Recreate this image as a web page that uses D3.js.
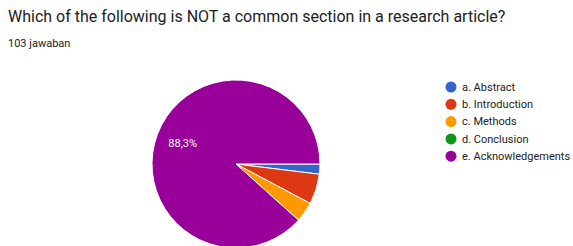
<!DOCTYPE html>
<html>
<head>
<meta charset="utf-8">
<script src="https://cdn.jsdelivr.net/npm/d3@7"></script>
<style>
  body { margin: 0; background: #fff; }
  svg { display: block; font-family: Roboto, Arial, sans-serif; }
</style>
</head>
<body>
<div id="chart"></div>
<script>
const TITLE = 'Which of the following is NOT a common section in a research article?';
const SUBTITLE = '103 jawaban';
const categories = ['a. Abstract', 'b. Introduction', 'c. Methods', 'd. Conclusion', 'e. Acknowledgements'];
const counts = [2, 6, 4, 0, 91];
const colors = ['#3366cc', '#dc3912', '#ff9900', '#109618', '#990099'];

const W = 573;
const H = 246;
const cx = 236;
const cy = 164;
const R = 84;

const svg = d3.select('#chart')
  .append('svg')
  .attr('width', W)
  .attr('height', H);

svg.append('text')
  .attr('x', 8)
  .attr('y', 22)
  .attr('font-size', '16px')
  .attr('fill', '#202124')
  .text(TITLE);

svg.append('text')
  .attr('x', 8)
  .attr('y', 47)
  .attr('font-size', '11px')
  .attr('fill', '#202124')
  .text(SUBTITLE);

const total = d3.sum(counts);
const data = categories.map((c, i) => ({ name: c, value: counts[i], color: colors[i] }));

// google pie starts at 3 o'clock, clockwise
const pie = d3.pie()
  .value((d) => d.value)
  .sort(null)
  .startAngle(Math.PI / 2)
  .endAngle(Math.PI / 2 + 2 * Math.PI);

const arc = d3.arc().innerRadius(0).outerRadius(R);
const labelArc = d3.arc().innerRadius(R * 0.68).outerRadius(R * 0.68);

const g = svg.append('g').attr('transform', `translate(${cx},${cy})`);
const arcs = pie(data).filter((d) => d.value > 0);

g.selectAll('path')
  .data(arcs)
  .join('path')
  .attr('d', arc)
  .attr('fill', (d) => d.data.color)
  .attr('stroke', '#fff')
  .attr('stroke-width', 1);

const fmt = (v) => (v * 100).toFixed(1).replace('.', ',') + '%';

g.selectAll('text.lbl')
  .data(arcs.filter((d) => d.value / total > 0.1))
  .join('text')
  .attr('class', 'lbl')
  .attr('transform', (d) => `translate(${labelArc.centroid(d)})`)
  .attr('text-anchor', 'middle')
  .attr('dy', '0.35em')
  .attr('font-size', '11px')
  .attr('fill', '#fff')
  .text((d) => fmt(d.value / total));

const legend = svg.append('g').attr('transform', 'translate(451,87)');
const rows = legend.selectAll('g')
  .data(data)
  .join('g')
  .attr('transform', (d, i) => `translate(0,${i * 17.3})`);

rows.append('circle')
  .attr('r', 5.5)
  .attr('fill', (d) => d.color);

rows.append('text')
  .attr('x', 11)
  .attr('dy', '0.35em')
  .attr('font-size', '11px')
  .attr('fill', '#222')
  .text((d) => d.name);
</script>
</body>
</html>
